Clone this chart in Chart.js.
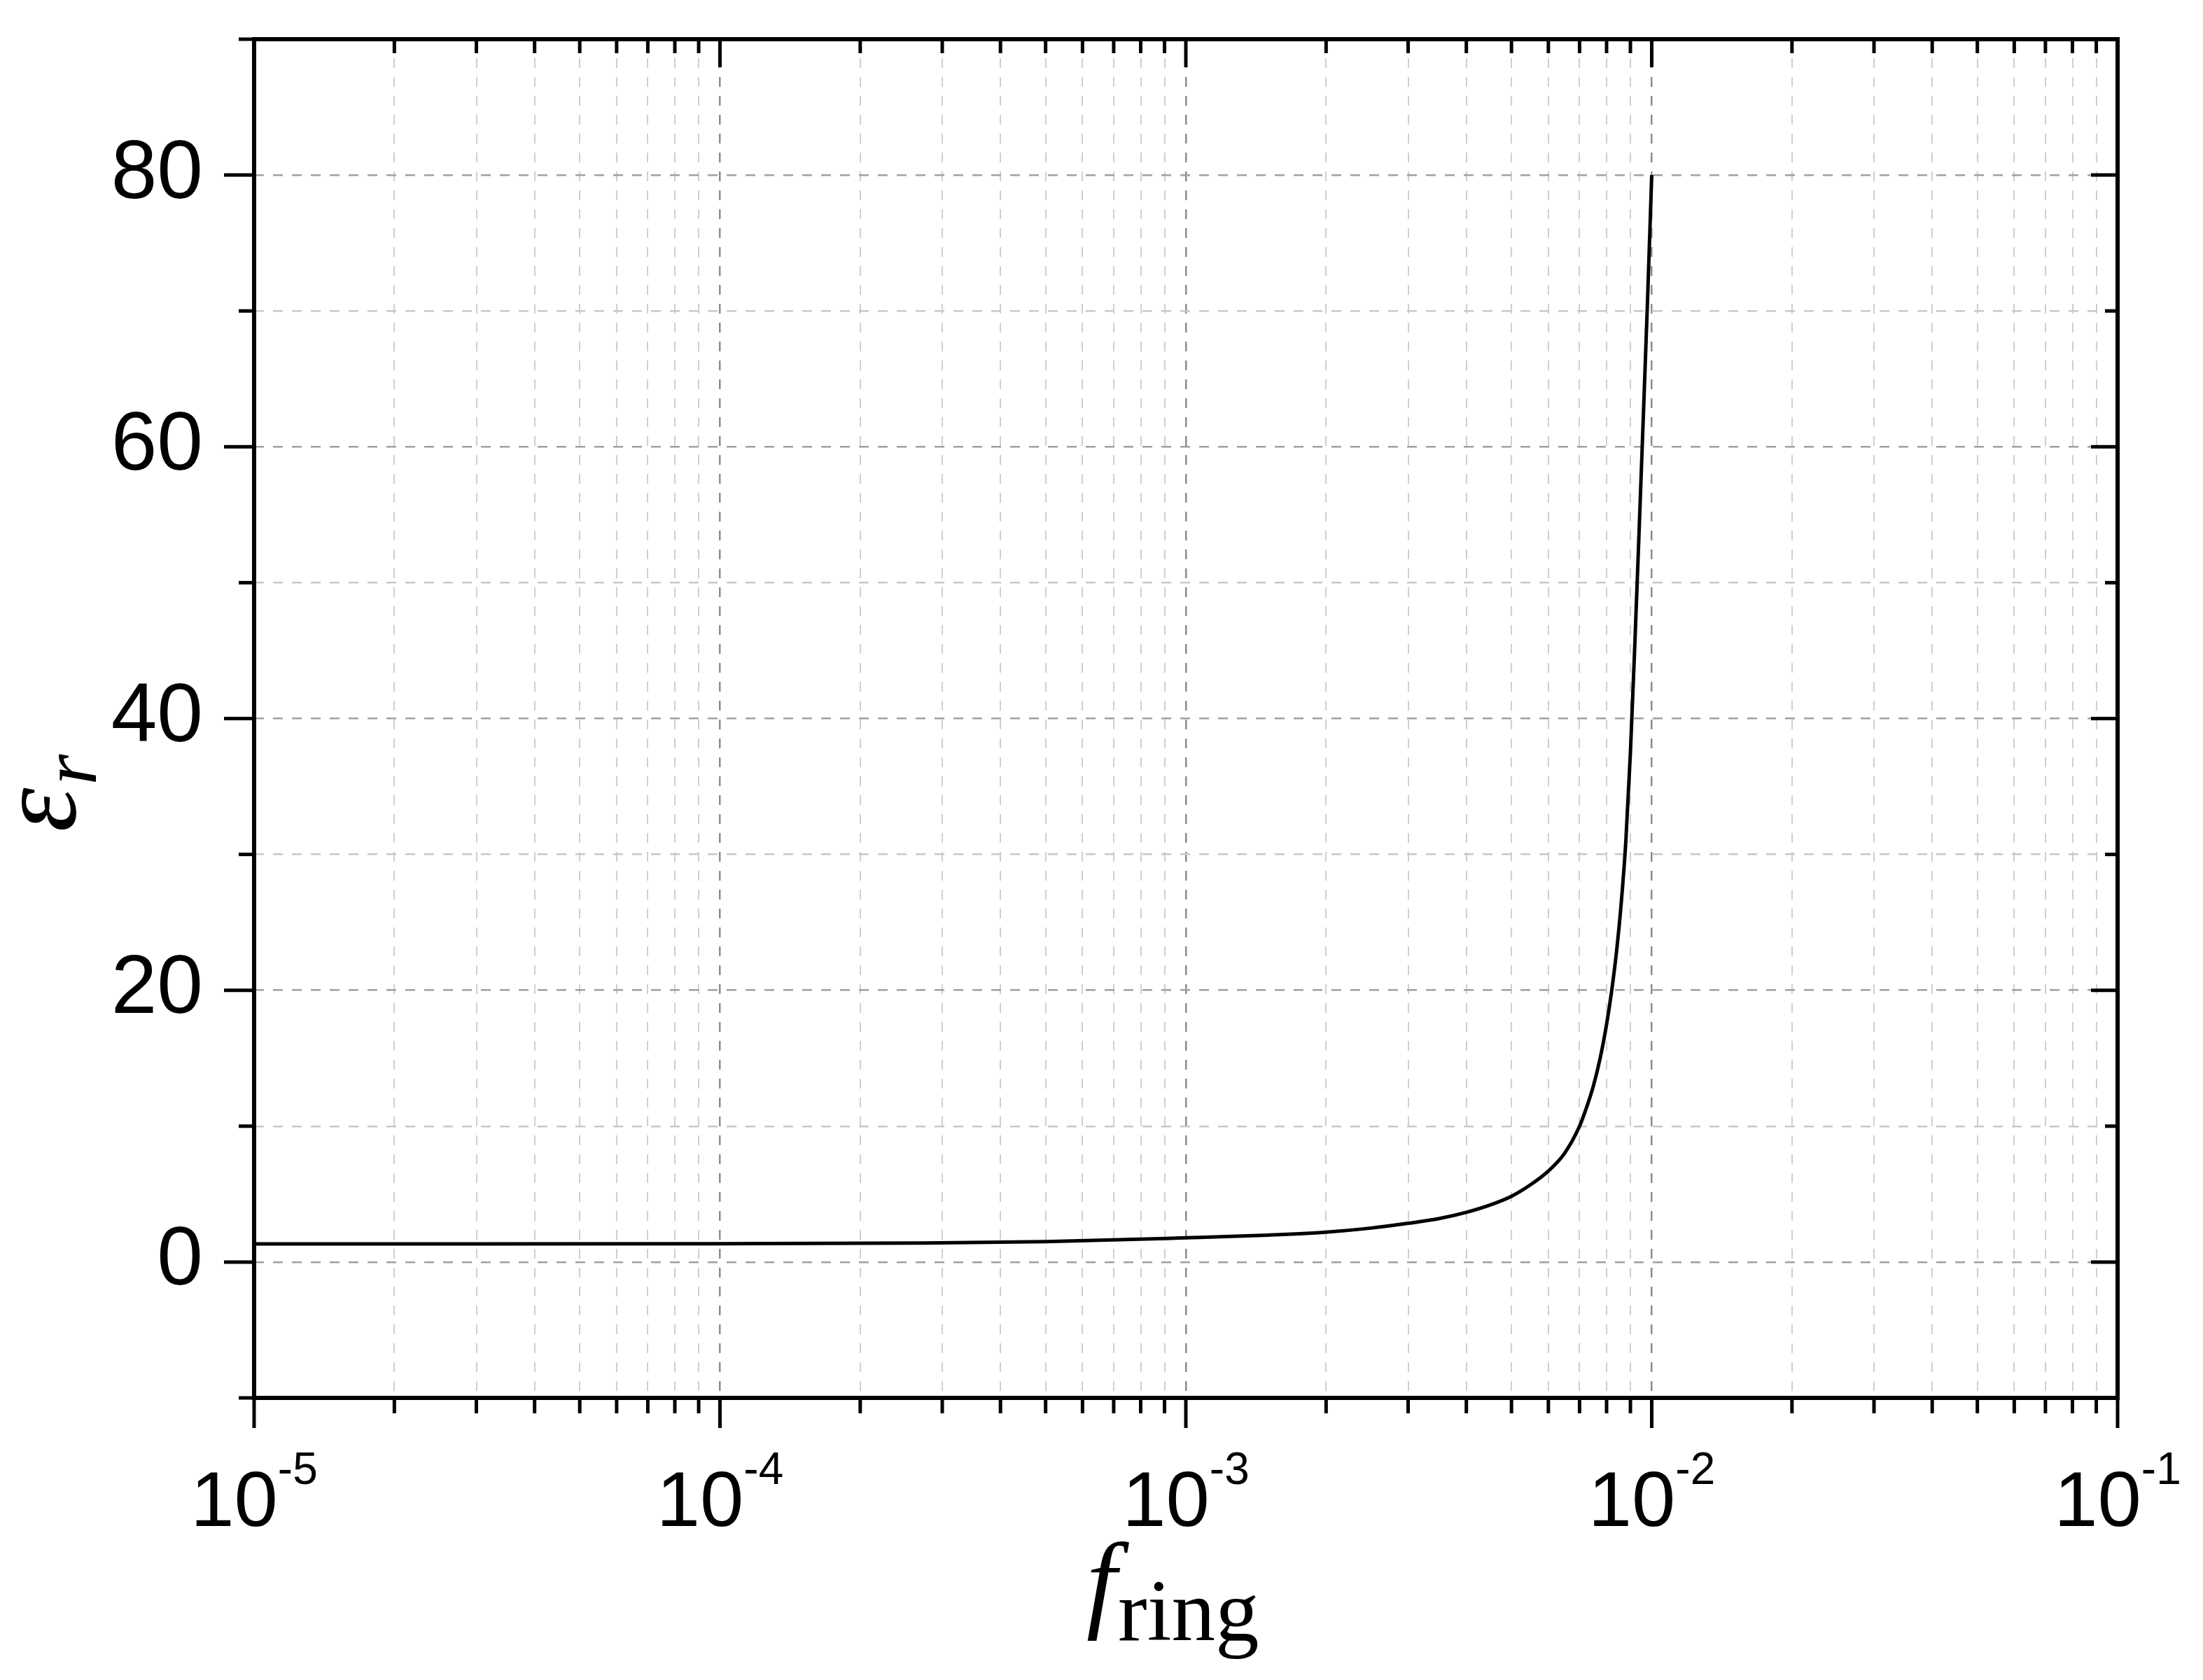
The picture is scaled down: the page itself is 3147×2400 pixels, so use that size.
<!DOCTYPE html>
<html>
<head>
<meta charset="utf-8">
<script src="https://cdn.jsdelivr.net/npm/chart.js@4.4.1/dist/chart.umd.min.js"></script>
<style>
  html, body { margin: 0; padding: 0; background: #fff; }
  #wrap { width: 3147px; height: 2400px; position: relative; }
</style>
</head>
<body>
<div id="wrap"><canvas id="chart"></canvas></div>
<script>
// Values
const fRing = [1e-5, 3e-5, 1e-4, 2.7e-4, 5e-4, 1e-3, 1.5e-3, 2e-3, 2.5e-3, 3e-3, 3.5e-3,
  4e-3, 4.5e-3, 5e-3, 5.5e-3, 6e-3, 6.5e-3, 7e-3, 7.25e-3, 7.5e-3, 7.75e-3, 8e-3,
  8.2e-3, 8.4e-3, 8.6e-3, 8.8e-3, 9e-3, 9.2e-3, 9.4e-3, 9.6e-3, 9.8e-3, 1e-2];
const epsR = [1.33, 1.33, 1.35, 1.4, 1.5, 1.78, 1.98, 2.2, 2.5, 2.85, 3.2,
  3.66, 4.2, 4.84, 5.7, 6.7, 8.0, 10.0, 11.4, 13.0, 15.0, 17.5,
  19.9, 22.8, 26.4, 31, 37.5, 45.5, 54, 62.5, 71, 80];

// Axis ticks
const xDecades = [1e-5, 1e-4, 1e-3, 1e-2, 1e-1];
const xExponents = ["-5", "-4", "-3", "-2", "-1"];
const xMinorSteps = [2, 3, 4, 5, 6, 7, 8, 9];
const yTicks = [-10, 0, 10, 20, 30, 40, 50, 60, 70, 80, 90];
const yLabelled = [0, 20, 40, 60, 80];

const xTickValues = [];
xDecades.forEach((d, i) => {
  xTickValues.push(d);
  if (i < xDecades.length - 1) xMinorSteps.forEach(m => xTickValues.push(m * d));
});

function isDecade(v) {
  return xDecades.some(d => Math.abs(v / d - 1) < 1e-9);
}

// Frame, ticks, tick labels and axis titles
const framePlugin = {
  id: "frame",
  afterDraw(chart) {
    const { ctx, chartArea: a, scales: { x, y } } = chart;
    ctx.save();
    ctx.strokeStyle = "#000";
    ctx.lineCap = "butt";

    function line(x1, y1, x2, y2) {
      ctx.beginPath();
      ctx.moveTo(x1, y1);
      ctx.lineTo(x2, y2);
      ctx.stroke();
    }

    // ticks
    ctx.lineWidth = 5;
    xTickValues.forEach(v => {
      const px = x.getPixelForValue(v);
      const major = isDecade(v);
      line(px, a.bottom, px, a.bottom + (major ? 43 : 22));
      line(px, a.top, px, a.top + (major ? 40 : 20));
    });
    yTicks.forEach(v => {
      const py = y.getPixelForValue(v);
      const major = yLabelled.includes(v);
      line(a.left - (major ? 43 : 22), py, a.left, py);
      line(a.right - (major ? 38 : 18), py, a.right, py);
    });

    // frame
    ctx.lineWidth = 6;
    ctx.strokeRect(a.left, a.top, a.right - a.left, a.bottom - a.top);

    // x tick labels: 10 with superscript exponent
    ctx.fillStyle = "#000";
    ctx.textBaseline = "alphabetic";
    ctx.textAlign = "left";
    const baseFont = '112px "Liberation Sans", Arial, sans-serif';
    const expFont = '64px "Liberation Sans", Arial, sans-serif';
    xDecades.forEach((d, i) => {
      const px = x.getPixelForValue(d);
      ctx.font = baseFont;
      const wb = ctx.measureText("10").width;
      ctx.font = expFont;
      const we = ctx.measureText(xExponents[i]).width;
      const start = px - (wb + we) / 2;
      ctx.font = baseFont;
      ctx.fillText("10", start, a.bottom + 183);
      ctx.font = expFont;
      ctx.fillText(xExponents[i], start + wb, a.bottom + 123);
    });

    // x title: f_ring
    const cx = (a.left + a.right) / 2;
    const fx = cx - 142;
    ctx.font = 'italic 155px "Liberation Serif", serif';
    const wf = ctx.measureText("f").width;
    ctx.fillText("f", fx, a.bottom + 314);
    ctx.font = '125px "Liberation Serif", serif';
    ctx.fillText("ring", fx + wf + 2, a.bottom + 346);

    // y title: epsilon_r
    ctx.save();
    ctx.translate(107, (a.top + a.bottom) / 2 + 162);
    ctx.rotate(-Math.PI / 2);
    ctx.font = 'italic 160px "Liberation Serif", serif';
    ctx.fillText("ε", 0, 0);
    const we2 = ctx.measureText("ε").width;
    ctx.font = 'italic 113px "Liberation Serif", serif';
    ctx.fillText("r", we2 + 4, 30);
    ctx.restore();

    ctx.restore();
  }
};

const ctx = document.getElementById("chart").getContext("2d");
new Chart(ctx, {
  type: "line",
  data: {
    datasets: [
      {
        data: fRing.map((f, i) => ({ x: f, y: epsR[i] })),
        borderColor: "#000",
        borderWidth: 5,
        pointRadius: 0,
        fill: false,
        cubicInterpolationMode: "monotone",
      },
    ],
  },
  options: {
    responsive: true,
    maintainAspectRatio: false,
    animation: false,
    events: [],
    layout: { padding: { left: 0, top: 56, right: 122, bottom: 0 } },
    plugins: {
      legend: { display: false },
      tooltip: { enabled: false },
    },
    scales: {
      x: {
        type: "logarithmic",
        position: "bottom",
        min: 1e-5,
        max: 1e-1,
        afterBuildTicks: scale => {
          scale.ticks = xTickValues.map(v => ({ value: v, major: isDecade(v) }));
        },
        afterFit: scale => {
          scale.height = 403;
          scale.paddingLeft = 0;
          scale.paddingRight = 0;
        },
        ticks: { display: false },
        border: { display: false, dash: [14, 13] },
        grid: {
          drawTicks: false,
          color: c => (c.tick && isDecade(c.tick.value) ? "#8c8c8c" : "#cfcfcf"),
          lineWidth: c => (c.tick && isDecade(c.tick.value) ? 2.5 : 2),
        },
      },
      y: {
        type: "linear",
        min: -10,
        max: 90,
        afterBuildTicks: scale => {
          scale.ticks = yTicks.map(v => ({ value: v }));
        },
        afterFit: scale => {
          scale.width = 363;
          scale.paddingTop = 0;
          scale.paddingBottom = 0;
        },
        ticks: {
          autoSkip: false,
          padding: 73,
          color: "#000",
          font: { family: '"Liberation Sans", Arial, sans-serif', size: 118 },
          callback: v => (yLabelled.includes(v) ? String(v) : ""),
        },
        border: { display: false, dash: [14, 13] },
        grid: {
          drawTicks: false,
          color: c => (c.tick && yLabelled.includes(c.tick.value) ? "#a0a0a0" : "#c8c8c8"),
          lineWidth: 2.5,
        },
      },
    },
  },
  plugins: [framePlugin],
});
</script>
</body>
</html>
